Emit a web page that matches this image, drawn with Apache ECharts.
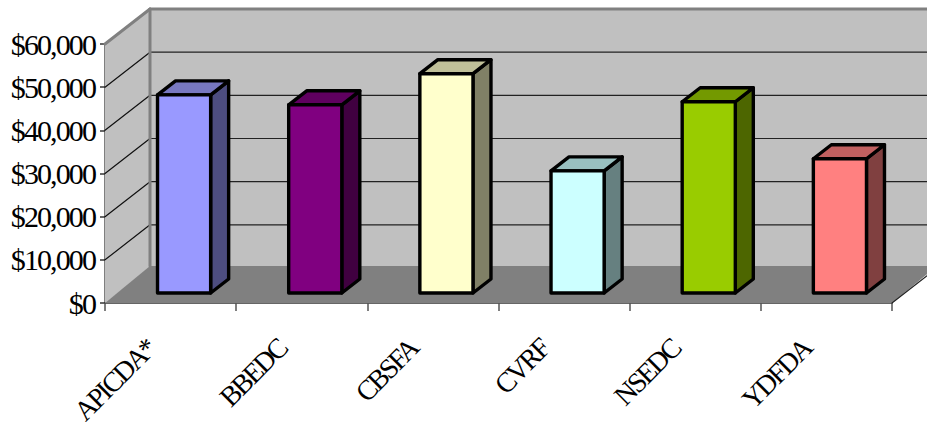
<!DOCTYPE html>
<html>
<head>
<meta charset="utf-8">
<style>
html,body{margin:0;padding:0;background:#fff}
#c{width:927px;height:422px}
#c svg text{letter-spacing:-1.9px}
#c svg text[transform*="-0.7"]{letter-spacing:-2.4px}
</style>
<script src="https://cdn.jsdelivr.net/npm/echarts@6/dist/echarts.min.js"></script>
</head>
<body>
<div id="c"></div>
<script>
const categories = ['APICDA*','BBEDC','CBSFA','CVRF','NSEDC','YDFDA'];
const values = [45900,43600,50800,28300,44300,31100];
const faceColors = ['#9999FF','#800080','#FFFFCC','#CCFFFF','#99CC00','#FF8080'];
const topColors = ['#7878C0','#600060','#C0C099','#99C0C0','#739900','#C06060'];
const sideColors = ['#4D4D80','#400040','#808066','#668080','#4D6600','#804040'];
const gridValues = [0,10000,20000,30000,40000,50000,60000];

const DX = 45, DY = -35, FLOOR_DY = -37;           // chart depth
const BAR_OFF_X = 13.5, BAR_OFF_Y = -10, BAR_DX = 18, BAR_DY = -14;
const BAR_RATIO = 0.405;

const chart = echarts.init(document.getElementById('c'), null, {renderer:'svg', width:927, height:422});

function poly(points, fill, stroke, lw){
  return {type:'polygon', shape:{points}, style:{fill:fill||'none', stroke:stroke||'none', lineWidth:lw||0, lineJoin:'round'}};
}
function line(a,b,stroke,lw){
  return {type:'line', shape:{x1:a[0],y1:a[1],x2:b[0],y2:b[1]}, style:{stroke,lineWidth:lw,lineCap:'round'}};
}

function renderWalls(params, api){
  if(params.dataIndex!==0) return {type:'group',children:[]};
  const n = categories.length;
  const o = api.coord([0,0]);
  const band = api.size([1,0])[0];
  const xl = o[0]-band/2, xr = xl+band*n;
  const y0 = o[1], yt = api.coord([0,60000])[1];
  const ch = [];
  ch.push(poly([[xl+DX,yt+DY],[xr+DX,yt+DY],[xr+DX,y0+DY],[xl+DX,y0+DY]],'#C0C0C0'));
  ch.push(poly([[xl,yt],[xl+DX,yt+DY],[xl+DX,y0+DY],[xl,y0]],'#C0C0C0'));
  ch.push(poly([[xl,y0],[xr,y0],[xr+DX,y0+FLOOR_DY],[xl+DX,y0+FLOOR_DY]],'#808080'));
  gridValues.forEach(v=>{
    if(v===0||v===60000) return;
    const y = api.coord([0,v])[1];
    ch.push(line([xl,y],[xl+DX,y+DY],'#111',1.2));
    ch.push(line([xl+DX,y+DY],[xr+DX,y+DY],'#222',1.2));
  });
  ch.push(line([xl,yt],[xl+DX,yt+DY],'#808080',3));
  ch.push(line([xl+DX,yt+DY],[xr+DX,yt+DY],'#808080',3));
  ch.push(line([xl+DX,yt+DY],[xl+DX,y0+FLOOR_DY],'#808080',3));
  ch.push(line([xr,y0],[xr+DX,y0+DY],'#222',1.2));
  return {type:'group',children:ch};
}

function renderBar(params, api){
  const i = api.value(0);
  const band = api.size([1,0])[0];
  const c = api.coord([i, api.value(1)]);
  const b = api.coord([i, 0]);
  const w = band*BAR_RATIO;
  const x0 = c[0]-w/2+BAR_OFF_X, x1 = x0+w;
  const yt = c[1]+BAR_OFF_Y, yb = b[1]+BAR_OFF_Y;
  const lw = 3.4;
  return {type:'group',children:[
    poly([[x1,yt],[x1+BAR_DX,yt+BAR_DY],[x1+BAR_DX,yb+BAR_DY],[x1,yb]],sideColors[i],'#000',lw),
    poly([[x0,yt],[x0+BAR_DX,yt+BAR_DY],[x1+BAR_DX,yt+BAR_DY],[x1,yt]],topColors[i],'#000',lw),
    poly([[x0,yt],[x1,yt],[x1,yb],[x0,yb]],faceColors[i],'#000',lw)
  ]};
}

chart.setOption({
  animation:false,
  backgroundColor:'#fff',
  textStyle:{fontFamily:'Liberation Serif'},
  grid:[
    {left:105,top:44,width:787,height:259,containLabel:false,outerBoundsMode:'none'},
    {left:85,top:44,width:787,height:259,containLabel:false,outerBoundsMode:'none'}
  ],
  xAxis:[
    {type:'category',data:categories,boundaryGap:true,gridIndex:0,
      axisLine:{show:true,lineStyle:{color:'#333',width:1.5}},
      axisTick:{show:true,alignWithLabel:false,length:8,lineStyle:{color:'#555',width:1.5}},
      axisLabel:{show:false}},
    {type:'category',data:categories,boundaryGap:true,gridIndex:1,
      axisLine:{show:false},axisTick:{show:false},
      axisLabel:{show:true,interval:0,rotate:45,margin:41,color:'#000',fontSize:28,fontFamily:'Liberation Serif'}}
  ],
  yAxis:[
    {type:'value',min:0,max:60000,interval:10000,gridIndex:0,
      axisLine:{show:true,lineStyle:{color:'#555',width:1.5}},
      axisTick:{show:true,length:5,lineStyle:{color:'#333',width:1.5}},
      splitLine:{show:false},
      axisLabel:{margin:10,color:'#000',fontSize:30,fontFamily:'Liberation Serif',
        formatter:v=>'$'+v.toLocaleString('en-US')}},
    {type:'value',min:0,max:60000,interval:10000,gridIndex:1,show:false,splitLine:{show:false}}
  ],
  series:[
    {type:'custom',renderItem:renderWalls,data:[[0,0]],clip:false,silent:true,z:1},
    {type:'custom',renderItem:renderBar,data:categories.map((c,i)=>[i,values[i]]),clip:false,silent:true,z:2}
  ]
});
</script>
</body>
</html>
